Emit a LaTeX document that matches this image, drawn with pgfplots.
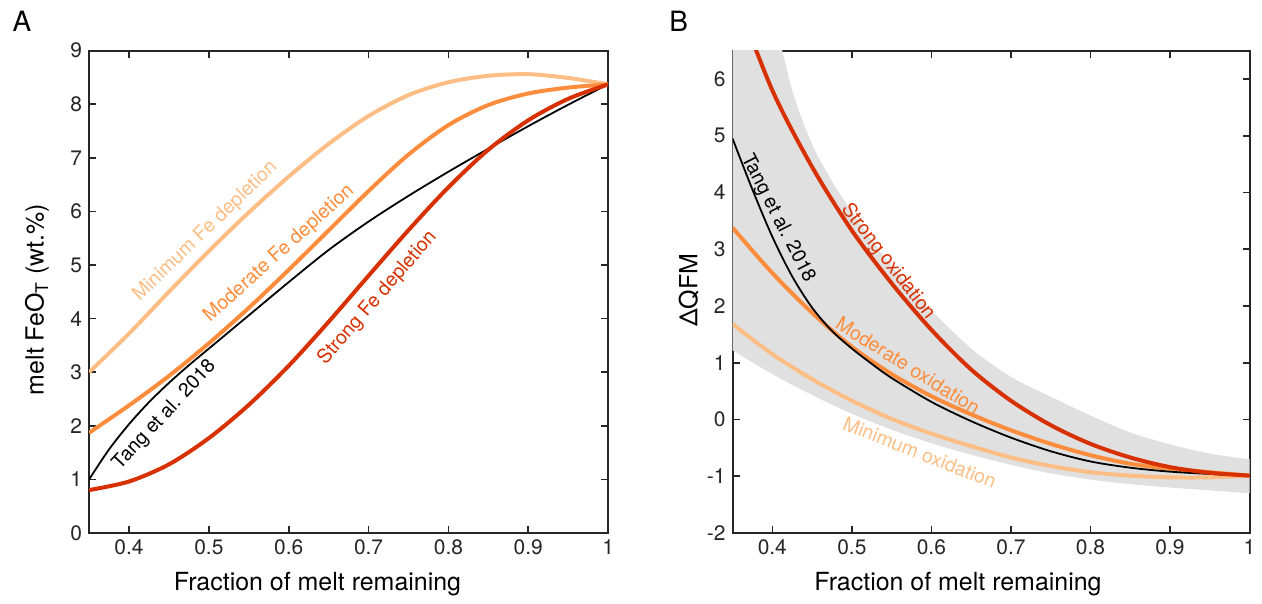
\documentclass[border=0pt]{standalone}
\usepackage{fontspec}
\setmainfont{TeX Gyre Heros}
\usepackage{pgfplots}
\pgfplotsset{compat=1.18}

\definecolor{minc}{RGB}{253,190,133}
\definecolor{modc}{RGB}{253,141,60}
\definecolor{strc}{RGB}{215,48,1}
\definecolor{axc}{RGB}{38,38,38}
\definecolor{bandc}{RGB}{224,224,224}

\pgfplotsset{
  panel/.style={
    scale only axis, height=241.65pt,
    xmin=0.35, xmax=1,
    xtick={0.4,0.5,0.6,0.7,0.8,0.9,1},
    tick align=inside, major tick length=3.5pt,
    axis line style={axc, line width=1pt},
    tick style={axc, line width=0.8pt},
    ticklabel style={font=\fontsize{10.5}{12}\selectfont, text=axc},
    label style={font=\fontsize{12.5}{15}\selectfont, text=black},
    /pgf/number format/assume math mode=true,
    clip mode=individual,
  },
  curve/.style={smooth, line width=2pt},
}
\tikzset{lab/.style={font=\fontsize{9.8}{11}\selectfont, anchor=center}}

\begin{document}
\begin{tikzpicture}
\path (-44.65pt,-35.5pt) rectangle (586.35pt,267pt);

% panel A
\begin{axis}[panel, name=A, at={(0,0)}, anchor=south west, width=260pt,
  ymin=0, ymax=9, ytick={0,1,...,9},
  xlabel={Fraction of melt remaining},
  ylabel={melt FeO\textsubscript{T} (wt.\%)},
  xlabel style={at={(axis description cs:0.44,-0.1055)}, anchor=center},
  ylabel style={at={(axis description cs:-0.1006,0.484)}, anchor=center},
]
\addplot[curve, minc] coordinates {(0.35,3.00)(0.40,3.72)(0.45,4.50)(0.50,5.26)(0.55,5.98)(0.60,6.65)(0.65,7.26)(0.70,7.78)(0.75,8.17)(0.80,8.41)(0.85,8.53)(0.90,8.56)(0.95,8.49)(1.00,8.37)};
\addplot[curve, modc] coordinates {(0.35,1.87)(0.40,2.38)(0.45,2.93)(0.50,3.54)(0.55,4.20)(0.60,4.91)(0.65,5.645)(0.70,6.38)(0.75,7.06)(0.80,7.61)(0.85,7.985)(0.90,8.20)(0.95,8.31)(1.00,8.37)};
\addplot[smooth, black, line width=0.9pt] coordinates {(0.35,1.00)(0.375,1.56)(0.40,2.03)(0.425,2.44)(0.45,2.80)(0.475,3.13)(0.50,3.44)(0.55,4.06)(0.60,4.68)(0.65,5.28)(0.70,5.81)(0.75,6.29)(0.80,6.74)(0.85,7.17)(0.90,7.59)(0.95,7.99)(1.00,8.37)};
\addplot[curve, strc] coordinates {(0.35,0.80)(0.40,0.96)(0.45,1.28)(0.50,1.77)(0.55,2.39)(0.60,3.12)(0.65,3.94)(0.70,4.80)(0.75,5.65)(0.80,6.45)(0.85,7.15)(0.90,7.70)(0.95,8.10)(1.00,8.37)};
\node[lab, text=minc, rotate=44] at (axis cs:0.4956,5.63) {Minimum Fe depletion};
\node[lab, text=modc, rotate=42] at (axis cs:0.588,5.21) {Moderate Fe depletion};
\node[lab, text=black, rotate=47] at (axis cs:0.4446,2.20) {Tang et al. 2018};
\node[lab, text=strc, rotate=49] at (axis cs:0.711,4.385) {Strong Fe depletion};
\end{axis}

% panel B
\begin{axis}[panel, name=B, at={(322.35pt,0)}, anchor=south west, width=259pt,
  ymin=-2, ymax=6.5, ytick={-2,-1,...,6},
  xlabel={Fraction of melt remaining},
  ylabel={ΔQFM},
  xlabel style={at={(axis description cs:0.436,-0.1055)}, anchor=center},
  ylabel style={at={(axis description cs:-0.085,0.503)}, anchor=center},
]
% grey envelope: upper edge left to right, then lower edge back
\addplot[smooth, fill=bandc, draw=none] coordinates {(0.30,9.5)(0.39,8.3)(0.40,7.3)(0.425,5.80)(0.45,4.85)(0.475,4.20)(0.50,3.65)(0.525,3.16)(0.55,2.70)(0.575,2.30)(0.60,1.92)(0.65,1.25)(0.70,0.75)(0.75,0.40)(0.80,0.07)(0.85,-0.23)(0.90,-0.44)(0.95,-0.60)(1.00,-0.70)(1.05,-0.75)
  (1.05,-1.33)(1.00,-1.30)(0.95,-1.25)(0.90,-1.20)(0.85,-1.14)(0.80,-1.06)(0.75,-0.95)(0.70,-0.80)(0.65,-0.62)(0.60,-0.42)(0.55,-0.18)(0.50,0.10)(0.45,0.43)(0.40,0.80)(0.35,1.22)(0.30,1.70)};
\addplot[curve, minc] coordinates {(0.35,1.68)(0.40,1.15)(0.45,0.71)(0.50,0.33)(0.55,0.01)(0.60,-0.25)(0.65,-0.47)(0.70,-0.67)(0.75,-0.82)(0.80,-0.93)(0.85,-0.99)(0.90,-1.02)(0.95,-1.02)(1.00,-0.99)};
\addplot[curve, modc] coordinates {(0.35,3.38)(0.40,2.58)(0.45,1.88)(0.50,1.28)(0.55,0.80)(0.60,0.41)(0.65,0.09)(0.70,-0.19)(0.75,-0.43)(0.80,-0.63)(0.85,-0.78)(0.90,-0.87)(0.95,-0.93)(1.00,-0.99)};
\addplot[smooth, black, line width=0.9pt] coordinates {(0.35,4.95)(0.375,4.05)(0.40,3.22)(0.425,2.52)(0.45,1.97)(0.475,1.56)(0.50,1.25)(0.525,0.98)(0.55,0.73)(0.60,0.31)(0.65,-0.03)(0.70,-0.32)(0.75,-0.56)(0.80,-0.74)(0.85,-0.85)(0.90,-0.92)(0.95,-0.96)(1.00,-0.99)};
\addplot[curve, strc] coordinates {(0.35,7.60)(0.40,5.80)(0.45,4.45)(0.50,3.33)(0.55,2.40)(0.60,1.58)(0.65,0.88)(0.70,0.33)(0.75,-0.10)(0.80,-0.43)(0.85,-0.67)(0.90,-0.84)(0.95,-0.94)(1.00,-0.99)};
\node[lab, text=black, rotate=-63] at (axis cs:0.4069,3.54) {Tang et al. 2018};
\node[lab, text=strc, rotate=-52.4] at (axis cs:0.5454,2.78) {Strong oxidation};
\node[lab, text=modc, rotate=-32] at (axis cs:0.5708,0.947) {Moderate oxidation};
\node[lab, text=minc, rotate=-21.5] at (axis cs:0.5855,-0.585) {Minimum oxidation};
\end{axis}

\node[font=\fontsize{14}{16}\selectfont] at (-33.65pt,256.5pt) {A};
\node[font=\fontsize{14}{16}\selectfont] at (295.35pt,256.5pt) {B};
\end{tikzpicture}
\end{document}
